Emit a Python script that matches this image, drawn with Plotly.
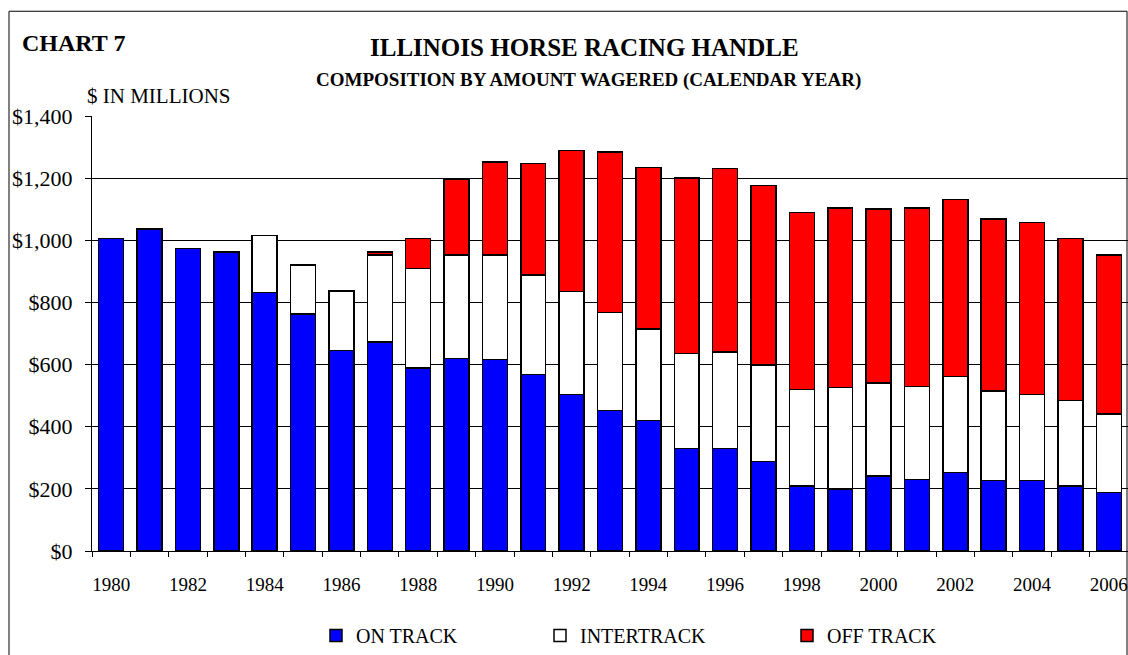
import plotly.graph_objects as go

years = list(range(1980, 2007))
on_track = [1005, 1036, 973, 962, 832, 762, 646, 673, 589, 619, 616, 568, 503, 452,
            420, 330, 330, 288, 210, 200, 242, 230, 253, 227, 227, 210, 189]
intertrack = [0, 0, 0, 0, 184, 159, 190, 280, 321, 333, 336, 320, 332, 316,
              295, 306, 311, 311, 310, 326, 299, 300, 309, 288, 276, 274, 252]
off_track = [0, 0, 0, 0, 0, 0, 0, 10, 95, 243, 300, 359, 454, 516,
             520, 564, 590, 578, 569, 578, 559, 574, 569, 554, 555, 521, 512]
series_names = ["ON TRACK", "INTERTRACK", "OFF TRACK"]
series_colors = ["#0000FF", "#FFFFFF", "#FF0000"]
y_ticks = [0, 200, 400, 600, 800, 1000, 1200, 1400]
x_label_years = list(range(1980, 2007, 2))

FONT = "Liberation Serif, Times New Roman, serif"

W, H = 1128, 655
L, R, T, B = 92, 0, 116, 103
PW, PH = W - L - R, H - T - B


def px_x(x):
    return (x - L) / PW


def px_y(y):
    return (H - B - y) / PH


fig = go.Figure()
legends = ["legend", "legend2", "legend3"]
for name, vals, col, lg in zip(series_names, [on_track, intertrack, off_track], series_colors, legends):
    fig.add_trace(go.Bar(
        x=years, y=vals, name=name, legend=lg,
        marker=dict(color=col, line=dict(color="#000000", width=1.5)),
    ))

legend_text_starts = [356, 580, 827]
leg_common = dict(orientation="h", yanchor="middle", xanchor="left",
                  font=dict(family=FONT, size=20, color="#000"),
                  bgcolor="rgba(0,0,0,0)", itemwidth=30)
fig.update_layout(
    legend=dict(x=px_x(legend_text_starts[0] - 40), y=px_y(637), **leg_common),
    legend2=dict(x=px_x(legend_text_starts[1] - 40), y=px_y(637), **leg_common),
    legend3=dict(x=px_x(legend_text_starts[2] - 40), y=px_y(637), **leg_common),
)

fig.update_layout(
    width=W, height=H,
    margin=dict(l=L, r=R, t=T, b=B, pad=0),
    barmode="stack", bargap=0.35,
    plot_bgcolor="#FFFFFF", paper_bgcolor="#FFFFFF",
    font=dict(family=FONT, color="#000000"),
    showlegend=True,
)

fig.update_xaxes(
    range=[1979.5, 2006.5],
    tickmode="array", tickvals=x_label_years, ticktext=[str(v) for v in x_label_years],
    ticks="outside", ticklen=0, tickcolor="#000",
    minor=dict(tickmode="linear", tick0=1979.5, dtick=1, ticks="outside", ticklen=5,
               tickcolor="#000", showgrid=False),
    showline=True, linecolor="#000", linewidth=1,
    showgrid=False, zeroline=False,
    tickfont=dict(family=FONT, size=19, color="#000"),
    ticklabelstandoff=16,
)
fig.update_yaxes(
    range=[0, 1400],
    tickmode="array", tickvals=y_ticks,
    ticktext=["${:,}".format(v) for v in y_ticks],
    ticks="outside", ticklen=6, tickcolor="#000",
    showline=True, linecolor="#000", linewidth=1,
    showgrid=True, gridcolor="#000", gridwidth=1,
    zeroline=False,
    tickfont=dict(family=FONT, size=22, color="#000"),
    ticklabelstandoff=8,
)

# chart frame
fig.add_shape(type="rect", xref="paper", yref="paper",
              x0=px_x(9), x1=px_x(1127), y0=px_y(700), y1=px_y(11),
              line=dict(color="#000", width=1), fillcolor="rgba(0,0,0,0)", layer="below")

fig.add_annotation(text="<b>CHART 7</b>", xref="paper", yref="paper",
                   x=px_x(20), y=px_y(43), xanchor="left", yanchor="middle",
                   showarrow=False, font=dict(family=FONT, size=24, color="#000"))
fig.add_annotation(text="<b>ILLINOIS HORSE RACING HANDLE</b>", xref="paper", yref="paper",
                   x=px_x(584), y=px_y(47), xanchor="center", yanchor="middle",
                   showarrow=False, font=dict(family=FONT, size=25, color="#000"))
fig.add_annotation(text="<b>COMPOSITION BY AMOUNT WAGERED (CALENDAR YEAR)</b>", xref="paper", yref="paper",
                   x=px_x(588), y=px_y(80), xanchor="center", yanchor="middle",
                   showarrow=False, font=dict(family=FONT, size=19, color="#000"))
fig.add_annotation(text="$ IN MILLIONS", xref="paper", yref="paper",
                   x=px_x(85), y=px_y(96), xanchor="left", yanchor="middle",
                   showarrow=False, font=dict(family=FONT, size=21, color="#000"))

fig.write_html(
    "out.html",
    config={"displayModeBar": False},
    post_script="document.body.style.margin='0';document.body.style.overflow='hidden';",
)
